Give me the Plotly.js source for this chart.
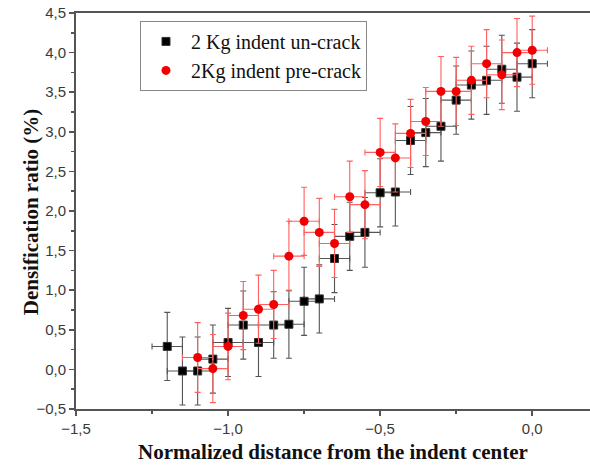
<!DOCTYPE html>
<html>
<head>
<meta charset="utf-8">
<script src="https://cdn.plot.ly/plotly-3.0.1.min.js"></script>
<style>html,body{margin:0;padding:0;background:#fff;}#chart{width:590px;height:466px;}</style>
</head>
<body>
<div id="chart"></div>
<script>
// Series 1: 2 Kg indent un-crack
const xUncrack = [-1.2, -1.15, -1.1, -1.05, -1.0, -0.95, -0.9, -0.85, -0.8, -0.75, -0.7, -0.65, -0.6, -0.55, -0.5, -0.45, -0.4, -0.35, -0.3, -0.25, -0.2, -0.15, -0.1, -0.05, 0.0];
const yUncrack = [0.29, -0.02, -0.02, 0.13, 0.34, 0.56, 0.34, 0.56, 0.57, 0.86, 0.89, 1.40, 1.68, 1.73, 2.23, 2.24, 2.89, 2.99, 3.07, 3.40, 3.59, 3.65, 3.79, 3.69, 3.86];
const yErrUncrack = [0.43, 0.43, 0.43, 0.43, 0.43, 0.43, 0.43, 0.42, 0.43, 0.43, 0.43, 0.43, 0.43, 0.44, 0.43, 0.43, 0.43, 0.43, 0.44, 0.43, 0.43, 0.43, 0.43, 0.43, 0.43];
const xErrUncrack = [0.05, 0.05, 0.05, 0.05, 0.05, 0.05, 0.05, 0.05, 0.05, 0.05, 0.05, 0.05, 0.05, 0.05, 0.05, 0.05, 0.05, 0.05, 0.05, 0.05, 0.05, 0.05, 0.05, 0.05, 0.05];

// Series 2: 2Kg indent pre-crack
const xPrecrack = [-1.1, -1.05, -1.0, -0.95, -0.9, -0.85, -0.8, -0.75, -0.7, -0.65, -0.6, -0.55, -0.5, -0.45, -0.4, -0.35, -0.3, -0.25, -0.2, -0.15, -0.1, -0.05, 0.0];
const yPrecrack = [0.15, 0.01, 0.29, 0.68, 0.76, 0.82, 1.43, 1.87, 1.73, 1.59, 2.18, 2.08, 2.74, 2.67, 2.98, 3.13, 3.51, 3.51, 3.65, 3.86, 3.72, 4.00, 4.03];
const yErrPrecrack = [0.44, 0.43, 0.42, 0.43, 0.43, 0.43, 0.44, 0.43, 0.43, 0.43, 0.45, 0.43, 0.43, 0.43, 0.43, 0.43, 0.44, 0.43, 0.43, 0.43, 0.44, 0.43, 0.43];
const xErrPrecrack = [0.05, 0.05, 0.05, 0.05, 0.05, 0.05, 0.05, 0.05, 0.05, 0.05, 0.05, 0.05, 0.05, 0.05, 0.05, 0.05, 0.05, 0.05, 0.05, 0.05, 0.05, 0.05, 0.05];

const seriesNames = ['2 Kg indent un-crack', '2Kg indent pre-crack'];
const yTickVals = [-0.5, 0.0, 0.5, 1.0, 1.5, 2.0, 2.5, 3.0, 3.5, 4.0, 4.5];
const xTickVals = [-1.5, -1.0, -0.5, 0.0];
const xTitle = 'Normalized distance from the indent center';
const yTitle = 'Densification ratio (%)';

const serif = 'Liberation Serif, Times New Roman, serif';

const traces = [
  {
    x: xUncrack, y: yUncrack, name: seriesNames[0], type: 'scatter', mode: 'markers',
    marker: {symbol: 'square', size: 8, color: '#000', line: {color: '#333', width: 1}},
    error_y: {type: 'data', array: yErrUncrack, color: '#555', thickness: 1.1, width: 3},
    error_x: {type: 'data', array: xErrUncrack, color: '#555', thickness: 1.1, width: 3}
  },
  {
    x: xPrecrack, y: yPrecrack, name: seriesNames[1], type: 'scatter', mode: 'markers',
    marker: {symbol: 'circle', size: 9, color: '#f00000', line: {color: '#e00', width: 0}},
    error_y: {type: 'data', array: yErrPrecrack, color: '#ff6060', thickness: 1.1, width: 3},
    error_x: {type: 'data', array: xErrPrecrack, color: '#ff6060', thickness: 1.1, width: 3}
  }
];

const axisCommon = {
  showline: true, linecolor: '#555', linewidth: 2, mirror: true,
  ticks: 'outside', ticklen: 5, tickwidth: 1.5, tickcolor: '#555',
  showgrid: false, zeroline: false,
  tickfont: {family: 'Liberation Sans, Arial, sans-serif', size: 15, color: '#3a3a3a'},
  tickformat: '.1f',
  minor: {ticks: 'outside', ticklen: 3, tickwidth: 1.5, tickcolor: '#555', dtick: 0.25}
};

const layout = {
  width: 590, height: 466,
  margin: {l: 76, r: 0, t: 13, b: 57},
  paper_bgcolor: '#fff', plot_bgcolor: '#fff',
  separators: ', ',
  showlegend: true,
  legend: {
    x: 0.1245, y: 0.98, xanchor: 'left', yanchor: 'top',
    bordercolor: '#888', borderwidth: 1, bgcolor: '#fff',
    font: {family: serif, size: 20, color: '#111'},
    itemsizing: 'trace', itemwidth: 40, tracegroupgap: 0
  },
  xaxis: Object.assign({}, axisCommon, {
    range: [-1.5, 0.19], tickvals: xTickVals,
    title: {text: '<b>' + xTitle + '</b>', standoff: 8,
      font: {family: serif, size: 21, color: '#111'}}
  }),
  yaxis: Object.assign({}, axisCommon, {
    range: [-0.5, 4.5], tickvals: yTickVals
  }),
  annotations: [{
    text: '<b>' + yTitle + '</b>', textangle: -90,
    xref: 'paper', yref: 'paper', x: -0.0875, y: 0.497,
    xanchor: 'center', yanchor: 'middle', showarrow: false,
    font: {family: serif, size: 21, color: '#111'}
  }]
};

Plotly.newPlot('chart', traces, layout, {displayModeBar: false, staticPlot: true});
</script>
</body>
</html>
